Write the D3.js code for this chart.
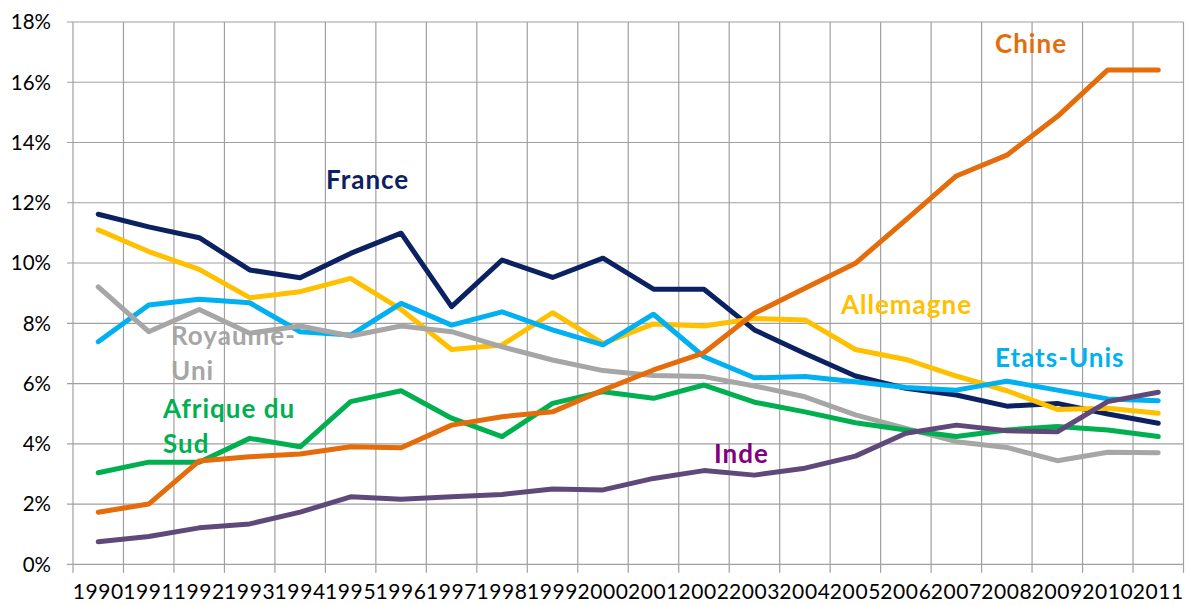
<!DOCTYPE html>
<html>
<head>
<meta charset="utf-8">
<script src="https://cdn.jsdelivr.net/npm/d3@7"></script>
<style>
  html, body { margin: 0; padding: 0; background: #fff; }
  svg { display: block; }
  text { font-family: Lato, "Open Sans", sans-serif; }
</style>
</head>
<body>
<svg id="chart" width="1187" height="605"></svg>
<script>
// ---------- data ----------
const years = [1990,1991,1992,1993,1994,1995,1996,1997,1998,1999,2000,2001,2002,2003,2004,2005,2006,2007,2008,2009,2010,2011];
const yTicks = [0,2,4,6,8,10,12,14,16,18];

const france      = [11.62,11.20,10.84,9.77,9.51,10.32,10.99,8.55,10.10,9.52,10.16,9.13,9.13,7.78,7.00,6.25,5.84,5.62,5.25,5.34,4.99,4.68];
const allemagne   = [11.10,10.38,9.79,8.85,9.05,9.49,8.46,7.13,7.28,8.35,7.33,7.98,7.91,8.16,8.11,7.13,6.80,6.25,5.76,5.14,5.18,5.01];
const etatsUnis   = [7.39,8.61,8.80,8.68,7.72,7.61,8.66,7.94,8.38,7.78,7.28,8.30,6.89,6.19,6.23,6.06,5.87,5.78,6.08,5.78,5.49,5.43];
const royaumeUni  = [9.21,7.72,8.46,7.67,7.91,7.58,7.91,7.72,7.22,6.78,6.43,6.27,6.23,5.92,5.56,4.96,4.51,4.07,3.88,3.44,3.72,3.70];
const afriqueSud  = [3.04,3.39,3.39,4.18,3.90,5.40,5.76,4.85,4.24,5.34,5.73,5.51,5.95,5.38,5.06,4.70,4.46,4.24,4.46,4.57,4.46,4.24];
const chine       = [1.73,2.00,3.43,3.57,3.66,3.90,3.87,4.62,4.90,5.06,5.78,6.45,7.02,8.33,9.16,9.99,11.43,12.89,13.58,14.86,16.41,16.41];
const inde        = [0.75,0.92,1.21,1.34,1.73,2.24,2.16,2.24,2.32,2.50,2.47,2.85,3.11,2.96,3.19,3.59,4.35,4.62,4.43,4.40,5.40,5.71];

const seriesNames = ["France","Allemagne","Etats-Unis","Royaume-Uni","Afrique du Sud","Chine","Inde"];
const seriesValues = [france, allemagne, etatsUnis, royaumeUni, afriqueSud, chine, inde];

// ---------- styles / layout ----------
const lineColors = {
  "France": "#0C2161", "Allemagne": "#FFC000", "Etats-Unis": "#00B0F0",
  "Royaume-Uni": "#A6A6A6", "Afrique du Sud": "#00B050", "Chine": "#E46C0A", "Inde": "#5F497A"
};
const labelColors = {
  "France": "#0C2161", "Allemagne": "#FFC000", "Etats-Unis": "#00B0F0",
  "Royaume-Uni": "#A6A6A6", "Afrique du Sud": "#00B050", "Chine": "#E46C0A", "Inde": "#800080"
};
const labelLayout = [
  { name: "France",         lines: ["France"],              x: 326, y: 189 },
  { name: "Chine",          lines: ["Chine"],               x: 995, y: 53 },
  { name: "Allemagne",      lines: ["Allemagne"],           x: 841, y: 314 },
  { name: "Etats-Unis",     lines: ["Etats-Unis"],          x: 995, y: 367 },
  { name: "Royaume-Uni",    lines: ["Royaume-", "Uni"],     x: 171, y: 345 },
  { name: "Afrique du Sud", lines: ["Afrique du", "Sud"],   x: 163, y: 418 },
  { name: "Inde",           lines: ["Inde"],                x: 714, y: 463 }
];

const plotLeft = 73, plotRight = 1183.5, plotTop = 22, plotBottom = 564.3;
const gridColor = "#A0A0A0";

const svg = d3.select("#chart");

const x = d3.scaleBand().domain(years).range([plotLeft, plotRight]).padding(0);
const y = d3.scaleLinear().domain([0, 18]).range([plotBottom, plotTop]);
const cx = d => x(d) + x.bandwidth() / 2;

// horizontal grid
svg.append("g").selectAll("line").data(yTicks).join("line")
  .attr("x1", plotLeft - 6).attr("x2", plotRight)
  .attr("y1", d => y(d)).attr("y2", d => y(d))
  .attr("stroke", gridColor).attr("stroke-width", 1.2);

// vertical grid (band edges)
const edges = years.map(d => x(d)).concat([plotRight]);
svg.append("g").selectAll("line").data(edges).join("line")
  .attr("x1", d => d).attr("x2", d => d)
  .attr("y1", plotTop).attr("y2", plotBottom + 8.5)
  .attr("stroke", gridColor).attr("stroke-width", 1.2);

// y axis labels
svg.append("g").selectAll("text").data(yTicks).join("text")
  .attr("x", 51).attr("y", d => y(d))
  .attr("dy", "0.36em")
  .attr("text-anchor", "end")
  .attr("font-size", 20.5).attr("fill", "#000")
  .text(d => d + "%");

// x axis labels
svg.append("g").selectAll("text").data(years).join("text")
  .attr("x", d => cx(d)).attr("y", 599)
  .attr("text-anchor", "middle")
  .attr("font-size", 21).attr("letter-spacing", 0.6).attr("fill", "#000")
  .text(d => d);

// lines
const line = d3.line().x((d, i) => cx(years[i])).y(d => y(d));
seriesNames.forEach((name, k) => {
  svg.append("path")
    .datum(seriesValues[k])
    .attr("d", line)
    .attr("fill", "none")
    .attr("stroke", lineColors[name])
    .attr("stroke-width", 5)
    .attr("stroke-linejoin", "round")
    .attr("stroke-linecap", "round");
});

// labels
labelLayout.forEach(l => {
  const t = svg.append("text")
    .attr("x", l.x).attr("y", l.y)
    .attr("font-size", 26).attr("font-weight", "bold")
    .attr("letter-spacing", 1)
    .attr("fill", labelColors[l.name]);
  l.lines.forEach((s, i) => {
    t.append("tspan").attr("x", l.x).attr("dy", i === 0 ? 0 : 34.5).text(s);
  });
});
</script>
</body>
</html>
